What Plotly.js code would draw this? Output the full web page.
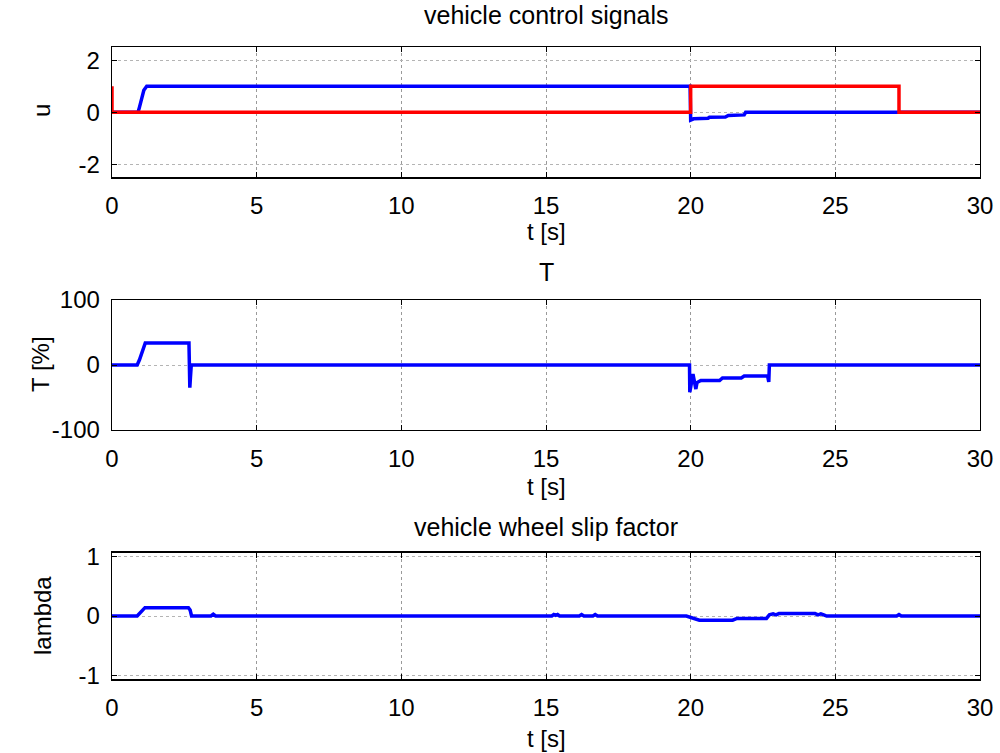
<!DOCTYPE html>
<html>
<head>
<meta charset="utf-8">
<script src="https://cdn.plot.ly/plotly-3.0.1.min.js"></script>
<style>html,body{margin:0;padding:0;background:#fff;}#chart{width:1000px;height:753px;}</style>
</head>
<body>
<div id="chart"></div>
<script>
// ---- data ----
const tickVals = [0, 5, 10, 15, 20, 25, 30];

// subplot 1: vehicle control signals (u)
const uBlueT = [0, 0.9, 0.95, 1.0, 1.05, 1.1, 1.2, 19.98, 20.0, 20.1, 20.6, 20.65, 21.2, 21.3, 21.85, 21.9, 30];
const uBlueV = [0, 0, 0.2, 0.45, 0.6, 0.85, 1, 1, -0.3, -0.25, -0.23, -0.19, -0.18, -0.12, -0.1, 0, 0];
const uRedT = [0, 0, 20, 20, 27.2, 27.2, 30];
const uRedV = [1, 0, 0, 1, 1, 0, 0];

// subplot 2: T [%]
const torqueT = [0, 0.87, 0.95, 1.0, 1.05, 1.1, 1.15, 2.66, 2.69, 2.71, 2.74, 19.96, 19.97, 20.05, 20.08, 20.18, 20.22, 20.3, 20.35, 21.0, 21.1, 21.75, 21.85, 22.66, 22.7, 22.72, 30];
const torqueV = [0, 0, 8, 15, 22, 30, 34, 34, -35, -20, 0, 0, -42, -15, -14, -37, -27, -25, -24, -24, -20, -20, -17, -17, -26, 0, 0];

// subplot 3: lambda (wheel slip)
const slipT = [0, 0.87, 1.14, 2.64, 2.7, 2.75, 3.42, 3.5, 3.58, 15.2, 15.27, 15.33, 15.4, 15.47, 16.15, 16.23, 16.31, 16.62, 16.7, 16.78, 19.85, 20.15, 20.3, 21.45, 21.6, 22.62, 22.72, 22.85, 22.95, 23.05, 24.3, 24.4, 24.5, 24.6, 24.7, 27.12, 27.2, 27.28, 30];
const slipV = [0, 0, 0.14, 0.14, 0.1, 0, 0, 0.03, 0, 0, 0.025, 0.01, 0.025, 0, 0, 0.025, 0, 0, 0.025, 0, 0, -0.04, -0.07, -0.07, -0.04, -0.04, 0.02, 0.035, 0.02, 0.04, 0.04, 0.02, 0.035, 0.02, 0, 0, 0.025, 0, 0];

const titles = ['vehicle control signals', 'T', 'vehicle wheel slip factor'];
const yTitles = ['u', 'T [%]', 'lambda'];
const xTitle = 't [s]';
const yTicks1 = [-2, 0, 2];
const yTicks2 = [-100, 0, 100];
const yTicks3 = [-1, 0, 1];

// ---- drawing ----
const FONT = 'Liberation Sans, Arial, Helvetica, sans-serif';
const FS = 24;
const FT = 25;
const W = 1000, H = 753;
const px = x => x / W;
const py = y => 1 - y / H;

function line(x, y, color, xa, ya) {
  return {x: x, y: y, type: 'scatter', mode: 'lines', xaxis: xa, yaxis: ya,
          line: {color: color, width: 3.5, shape: 'linear'}, hoverinfo: 'skip', showlegend: false};
}

const traces = [
  line(uBlueT, uBlueV, '#0000FF', 'x', 'y'),
  line(uRedT, uRedV, '#FF0000', 'x', 'y'),
  line(torqueT, torqueV, '#0000FF', 'x2', 'y2'),
  line(slipT, slipV, '#0000FF', 'x3', 'y3')
];

function xax(dom, anchor) {
  return {domain: dom, anchor: anchor, range: [0, 30], tickvals: tickVals, ticktext: tickVals.map(String),
    ticks: 'inside', ticklen: 5, tickcolor: '#000', tickwidth: 1, showline: true, linecolor: '#000', linewidth: 1.3,
    mirror: 'ticks', showgrid: true, gridcolor: '#9a9a9a', griddash: 'dot', gridwidth: 1, zeroline: false,
    tickfont: {family: FONT, size: FS, color: '#000'}, ticklabelstandoff: 7, fixedrange: true};
}
function yax(dom, anchor, range, tv) {
  return {domain: dom, anchor: anchor, range: range, tickvals: tv, ticktext: tv.map(String),
    ticks: 'inside', ticklen: 5, tickcolor: '#000', tickwidth: 1, showline: true, linecolor: '#000', linewidth: 1.3,
    mirror: 'ticks', showgrid: true, gridcolor: '#b4b4b4', griddash: 'dot', gridwidth: 1, zeroline: false,
    tickfont: {family: FONT, size: FS, color: '#000'}, ticklabelstandoff: 6, fixedrange: true};
}

const xd = [px(112), px(980)];
const layout = {
  width: W, height: H,
  margin: {l: 0, r: 0, t: 0, b: 0, pad: 0},
  paper_bgcolor: '#fff', plot_bgcolor: '#fff',
  showlegend: false,
  xaxis: xax(xd, 'y'),
  yaxis: yax([py(177.3), py(47.3)], 'x', [-2.5, 2.5], yTicks1),
  xaxis2: xax(xd, 'y2'),
  yaxis2: yax([py(430), py(300)], 'x2', [-100, 100], yTicks2),
  xaxis3: xax(xd, 'y3'),
  yaxis3: yax([py(679.3), py(552.7)], 'x3', [-1.06, 1.06], yTicks3),
  annotations: []
};

function ann(text, x, y, angle, size) {
  return {text: text, xref: 'paper', yref: 'paper', x: px(x), y: py(y), xanchor: 'center', yanchor: 'middle',
    showarrow: false, textangle: angle || 0, font: {family: FONT, size: size, color: '#000'}};
}
const titleY = [15, 272, 527];
const xTitleY = [232, 486, 738];
const yTitleCenters = [111, 364, 616];
const yTitleX = [42, 40, 42];
for (let i = 0; i < 3; i++) {
  layout.annotations.push(ann(titles[i], 546, titleY[i], 0, FT));
  layout.annotations.push(ann(xTitle, 546, xTitleY[i], 0, FS));
  layout.annotations.push(ann(yTitles[i], yTitleX[i], yTitleCenters[i], -90, FS));
}

Plotly.newPlot('chart', traces, layout, {displayModeBar: false, staticPlot: true});
</script>
</body>
</html>
